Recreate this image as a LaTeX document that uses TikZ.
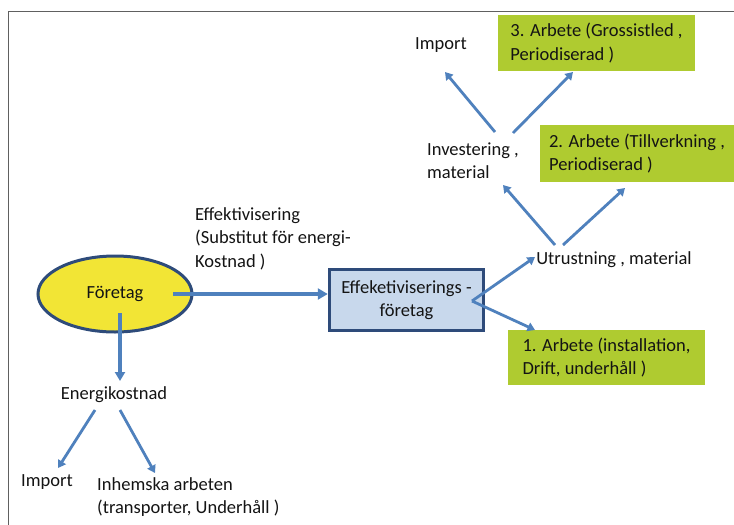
\documentclass[tikz,border=0pt]{standalone}
\usepackage{fontspec}
\setmainfont{Carlito}
\usetikzlibrary{arrows.meta,shapes.geometric,calc}
\definecolor{arrowblue}{HTML}{4F81BD}
\definecolor{darkborder}{HTML}{2E4B7A}
\definecolor{ellfill}{HTML}{F2E535}
\definecolor{boxfill}{HTML}{C8D8EC}
\definecolor{greenfill}{HTML}{AFCB30}
\definecolor{framegray}{HTML}{606060}
\begin{document}
\begin{tikzpicture}[x=1pt,y=-1pt,
  every node/.style={font=\fontsize{18.5}{23.5}\selectfont, text=black!92},
  plain/.style={inner sep=0pt, align=left},
  ell/.style={ellipse, draw=darkborder, line width=3pt, fill=ellfill, minimum width=154pt, minimum height=76pt, inner sep=0pt},
  bluebox/.style={rectangle, draw=darkborder, line width=3.5pt, fill=boxfill, minimum width=154pt, minimum height=61pt, inner sep=0pt, align=center},
  greenbox/.style={rectangle, fill=greenfill, inner sep=0pt, align=left},
  bigarrow/.style={draw=arrowblue, line width=4.2pt, -{Triangle[length=10pt,width=11pt]}},
  midarrow/.style={draw=arrowblue, line width=3.4pt, -{Triangle[length=9pt,width=10pt]}},
  thinarrow/.style={draw=arrowblue, line width=2.8pt, -{Triangle[length=7.5pt,width=9pt]}}
]
\useasboundingbox (0,0) rectangle (734,525);
\fill[white] (0,0) rectangle (734,525);
\draw[framegray, line width=1.5pt] (8.5,525) -- (8.5,11.5) -- (734,11.5);

% nodes
\node[ell] (f) at (115,294) {Företag};
\node[bluebox] (e) at (406.5,300) {Effeketiviserings -\\företag};
\node[plain, anchor=north west] (lab) at (195,207) {Effektivisering\\(Substitut för energi-\\Kostnad )};
\node[plain] (u) at (614,260) {Utrustning , material};
\node[greenbox, minimum width=197pt, minimum height=55pt] (g1) at (606.5,357.5) {1. Arbete (installation,\\Drift, underhåll )};
\node[plain, anchor=west] (inv) at (427,160.5) {Investering ,\\material};
\node[greenbox, minimum width=194pt, minimum height=57pt] (g2) at (637,153.5) {2. Arbete (Tillverkning ,\\Periodiserad )};
\node[greenbox, minimum width=197pt, minimum height=56pt] (g3) at (596.5,43) {3. Arbete (Grossistled ,\\Periodiserad )};
\node[plain] (imp1) at (441,45) {Import};
\node[plain] (ek) at (114,395) {Energikostnad};
\node[plain] (imp2) at (47,482) {Import};
\node[plain, anchor=north west] (inh) at (97,477) {Inhemska arbeten\\(transporter, Underhåll )};

% fork coordinate
\coordinate (fork) at (472,301);

% connectors
\draw[bigarrow] ($(f.center)+(58,0)$) -- (e.west |- f.center);
\draw[midarrow] ($(f.center)+(5,19)$) -- ($(ek.center)+(6,-14)$);
\draw[thinarrow] (fork) -- ($(u.center)+(-79,-3)$);
\draw[thinarrow] (fork) -- ($(g1.center)+(-71.5,-27.5)$);
\draw[thinarrow] ($(u.center)+(-59,-15)$) -- ($(inv.west)+(76,24.5)$);
\draw[thinarrow] ($(u.center)+(-51,-15)$) -- ($(g2.center)+(-12,34.5)$);
\draw[thinarrow] ($(inv.west)+(68,-28.5)$) -- ($(imp1.center)+(4,27)$);
\draw[thinarrow] ($(inv.west)+(86,-27.5)$) -- ($(g3.center)+(-23.5,29)$);
\draw[thinarrow] ($(ek.center)+(-19,15)$) -- ($(imp2.center)+(11,-14)$);
\draw[thinarrow] ($(ek.center)+(6,15)$) -- ($(inh.north west)+(58,-4)$);
\end{tikzpicture}
\end{document}
